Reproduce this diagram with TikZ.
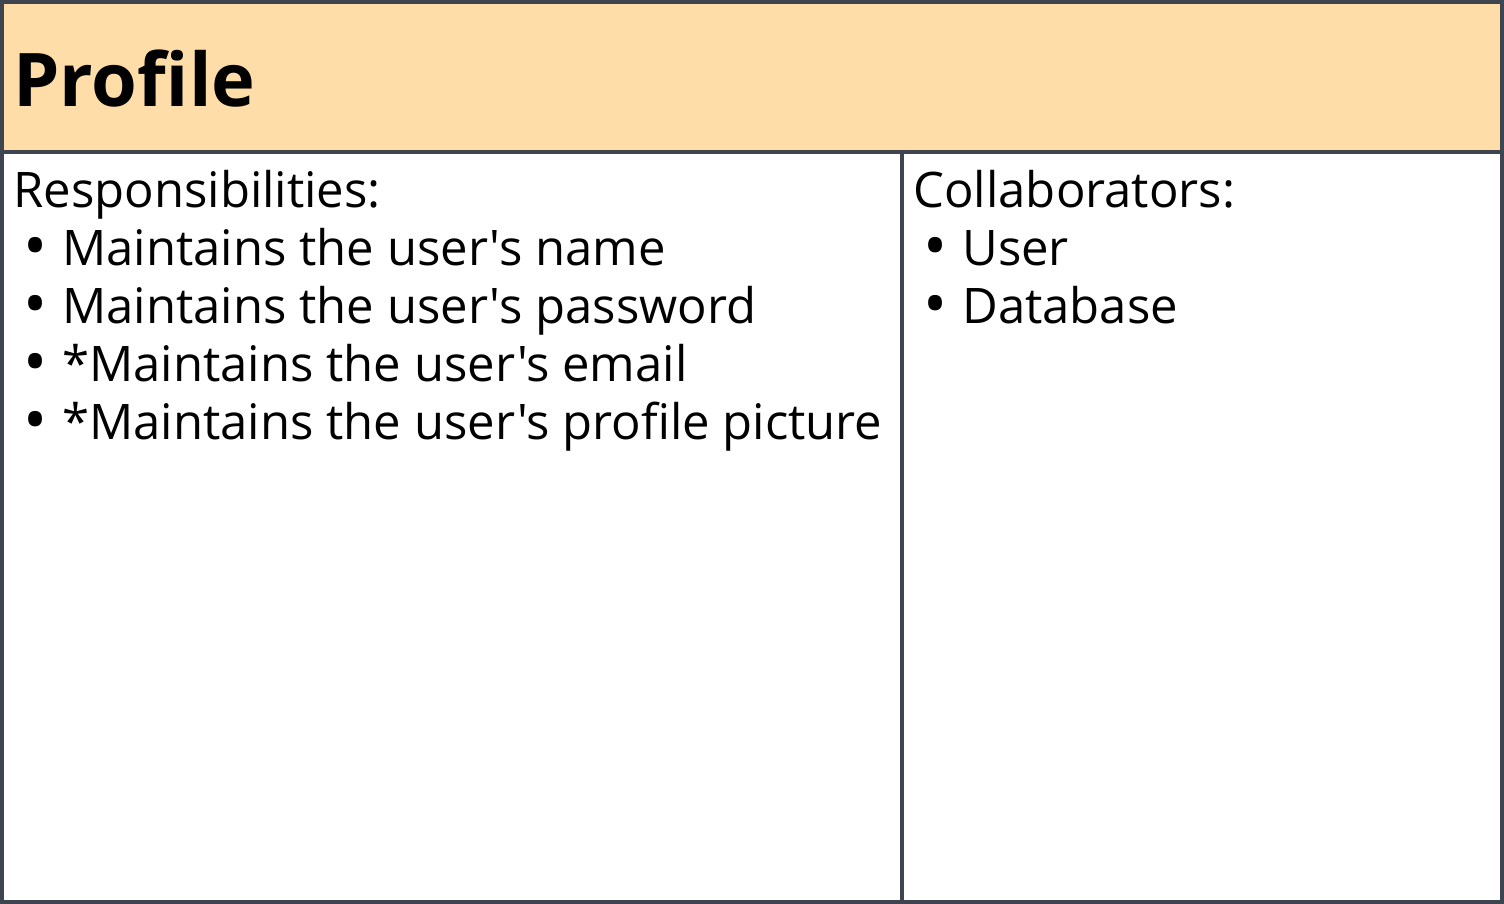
\documentclass[tikz,border=0pt]{standalone}
\usepackage{fontspec}
\setmainfont{Open Sans}[Ligatures=TeXOff]
\definecolor{cardline}{HTML}{3F4550}
\definecolor{cardhead}{HTML}{FEDDA8}
\tikzset{
  cardrule/.style={draw=cardline, line width=1.75pt},
  item/.style={anchor=base west, inner sep=0pt, font=\fontsize{24.5}{28}\selectfont},
  dot/.style={anchor=base, inner sep=0pt, font=\fontsize{32}{32}\selectfont}
}
\begin{document}
\begin{tikzpicture}[x=0.5pt, y=-0.5pt]
  \useasboundingbox (0,0) rectangle (1504,904);
  % card with header band
  \fill[cardhead] (2,2) rectangle (1502,152);
  \draw[cardrule] (2,152) -- (1502,152);
  \draw[cardrule] (902,152) -- (902,902);
  \draw[cardrule] (2,2) rectangle (1502,902);

  \node[anchor=base west, inner sep=0pt, font=\bfseries\fontsize{37}{40}\selectfont] (title) at (13,107) {Profile};

  \node[item] (resp) at (13,207) {Responsibilities:};
  \node[item] (collab) at (913,207) {Collaborators:};

  \foreach \name/\txt [count=\i] in {r1/Maintains the user's name, r2/Maintains the user's password,
      r3/*Maintains the user's email, r4/*Maintains the user's profile picture}
  {
    \node[dot] at (36,210+58*\i) {\textbullet};
    \node[item] (\name) at (62,207+58*\i) {\txt};
  }
  \foreach \name/\txt [count=\i] in {c1/User, c2/Database}
  {
    \node[dot] at (936,210+58*\i) {\textbullet};
    \node[item] (\name) at (962,207+58*\i) {\txt};
  }
\end{tikzpicture}
\end{document}
